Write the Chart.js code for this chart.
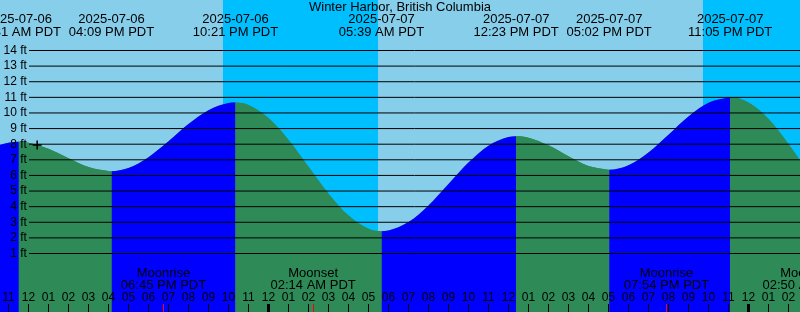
<!DOCTYPE html>
<html>
<head>
<meta charset="utf-8">
<title>Winter Harbor, British Columbia</title>
<script src="https://cdn.jsdelivr.net/npm/chart.js@4.4.1/dist/chart.umd.min.js"></script>
<style>
  html, body { margin: 0; padding: 0; background: #87ceeb; }
  #wrap { position: relative; width: 800px; height: 312px; overflow: hidden; }
  #tideChart { display: block; }
  #title {
    position: absolute; left: 0; right: 0; top: 0;
    text-align: center; color: #000;
    font: 13px "Liberation Sans", Arial, sans-serif; line-height: 14px;
  }
</style>
</head>
<body>
<div id="wrap">
  <canvas id="tideChart" width="800" height="312"></canvas>
  <div id="title">Winter Harbor, British Columbia</div>
</div>
<script>
// Tide heights, one per hour, starting 10 AM 2025-07-06 (ft)
const hourlyStart = 10;
const hourlyFeet = [
  7.72, 8.10, 8.10, 7.71, 7.10, 6.54, 6.28, 6.47, 7.17, 8.19, 9.29, 10.18,
  10.64, 10.51, 9.67, 8.27, 6.55, 4.83, 3.43, 2.59, 2.47, 3.01, 4.08, 5.45,
  6.82, 7.90, 8.46, 8.42, 7.93, 7.23, 6.61, 6.37, 6.65, 7.47, 8.61, 9.78,
  10.65, 10.99, 10.67, 9.61, 8.01, 6.15
];

// High / low water
const extremeStamps = [
  "2025-07-06 11:31 AM PDT", "2025-07-06 04:09 PM PDT", "2025-07-06 10:21 PM PDT",
  "2025-07-07 05:39 AM PDT", "2025-07-07 12:23 PM PDT", "2025-07-07 05:02 PM PDT",
  "2025-07-07 11:05 PM PDT"
];
const extremeFeet = [8.15, 6.27, 10.67, 2.43, 8.51, 6.36, 11.01];

// Moon events
const moonEvents = ["Moonrise", "Moonset", "Moonrise", "Moonset"];
const moonStamps = [
  "2025-07-06 06:45 PM PDT", "2025-07-07 02:14 AM PDT",
  "2025-07-07 07:54 PM PDT", "2025-07-08 02:50 AM PDT"
];

// Night (sunset -> sunrise)
const sunsets = ["2025-07-06 09:43 PM PDT", "2025-07-07 09:43 PM PDT"];
const sunrises = ["2025-07-07 05:29 AM PDT", "2025-07-08 05:30 AM PDT"];

// Current time mark
const nowStamp = "2025-07-06 12:26 PM PDT";
const nowFeet = 7.95;

const depthLevels = [1, 2, 3, 4, 5, 6, 7, 8, 9, 10, 11, 12, 13, 14];

// View window (hours after 2025-07-06 00:00) and height range (ft)
const viewStart = 10.575;
const viewEnd = viewStart + 40;
const gridFrom = viewStart + 1.45;
const feetMin = -2.746;
const feetMax = 17.234;

const NIGHT = "#00bfff";
const FLOOD = "#0000ff";
const EBB = "#2e8b57";
const FONT = '"Liberation Sans", Arial, sans-serif';

// "2025-07-07 05:39 AM PDT" -> hours after 2025-07-06 00:00
function toHours(stamp) {
  const [date, clock, ampm] = stamp.split(" ");
  const day = Number(date.slice(8)) - 6;
  let [h, m] = clock.split(":").map(Number);
  if (ampm === "PM" && h !== 12) h += 12;
  if (ampm === "AM" && h === 12) h = 0;
  return day * 24 + h + m / 60;
}

// keep the axes from taking any room: labels sit on top of the plot
function flatten(scale) {
  if (scale.isHorizontal()) scale.height = 0;
  else scale.width = 0;
  scale.paddingLeft = scale.paddingRight = 0;
  scale.paddingTop = scale.paddingBottom = 0;
}

const tidePoints = hourlyFeet
  .map((ft, i) => ({ x: hourlyStart + i, y: ft }))
  .concat(extremeStamps.map((s, i) => ({ x: toHours(s), y: extremeFeet[i] })))
  .sort((a, b) => a.x - b.x);

const hourTicks = [];
for (let h = Math.ceil(viewStart); h <= viewEnd; h++) hourTicks.push(h);

const nightSets = sunsets.map((s, i) => ({
  data: [
    { x: toHours(s), y: feetMax },
    { x: toHours(sunrises[i]), y: feetMax },
  ],
  fill: "start",
  backgroundColor: NIGHT,
  borderColor: "transparent",
  borderWidth: 0,
  pointRadius: 0,
  order: 5,
}));

const gridSets = depthLevels.map((lvl) => ({
  data: [
    { x: gridFrom, y: lvl },
    { x: viewEnd, y: lvl },
  ],
  borderColor: "#000",
  borderWidth: 1,
  pointRadius: 0,
  fill: false,
  order: 2,
}));

new Chart(document.getElementById("tideChart"), {
  type: "line",
  data: {
    datasets: [
      ...nightSets,
      // underlay so the flood/ebb seams don't show the sky through
      {
        data: tidePoints,
        fill: "start",
        cubicInterpolationMode: "monotone",
        backgroundColor: EBB,
        borderColor: "transparent",
        borderWidth: 0,
        pointRadius: 0,
        order: 4,
      },
      {
        data: tidePoints,
        fill: "start",
        cubicInterpolationMode: "monotone",
        backgroundColor: EBB,
        borderColor: "transparent",
        borderWidth: 0,
        pointRadius: 0,
        segment: {
          backgroundColor: (c) => (c.p1.parsed.y > c.p0.parsed.y ? FLOOD : EBB),
        },
        order: 3,
      },
      ...gridSets,
      {
        data: [{ x: toHours(nowStamp), y: nowFeet }],
        showLine: false,
        pointStyle: "cross",
        pointRadius: 4.5,
        pointBorderWidth: 1.5,
        pointBorderColor: "#000",
        order: 1,
      },
    ],
  },
  options: {
    responsive: false,
    animation: false,
    events: [],
    layout: { padding: 0, autoPadding: false },
    plugins: {
      legend: { display: false },
      tooltip: { enabled: false },
      title: { display: false },
    },
    scales: {
      x: {
        type: "linear",
        position: "bottom",
        min: viewStart,
        max: viewEnd,
        afterBuildTicks: (s) => { s.ticks = hourTicks.map((v) => ({ value: v })); },
        afterFit: flatten,
        border: { display: false },
        grid: {
          drawOnChartArea: false,
          tickLength: -8,
          tickColor: "#000",
          tickWidth: (c) => (c.tick && c.tick.value % 24 === 0 ? 3 : 1),
          z: 1,
        },
        ticks: {
          autoSkip: false,
          maxRotation: 0,
          mirror: true,
          padding: 7.3,
          color: "#000",
          font: { family: FONT, size: 12 },
          z: 1,
          callback: (v) => String(v % 12 || 12).padStart(2, "0"),
        },
      },
      xMoon: {
        type: "linear",
        position: "bottom",
        min: viewStart,
        max: viewEnd,
        afterBuildTicks: (s) => { s.ticks = moonStamps.map((m) => ({ value: toHours(m) })); },
        afterFit: flatten,
        border: { display: false },
        grid: {
          drawOnChartArea: false,
          tickLength: -8,
          tickColor: "#ff0000",
          tickWidth: 1,
          z: 1,
        },
        ticks: {
          autoSkip: false,
          maxRotation: 0,
          mirror: true,
          padding: 32.3,
          color: "#000",
          font: { family: FONT, size: 13, lineHeight: "12px" },
          z: 1,
          callback: (v, i) => [moonEvents[i], moonStamps[i].slice(11)],
        },
      },
      xTop: {
        type: "linear",
        position: "top",
        min: viewStart,
        max: viewEnd,
        afterBuildTicks: (s) => { s.ticks = extremeStamps.map((e) => ({ value: toHours(e) })); },
        afterFit: flatten,
        border: { display: false },
        grid: { display: false, drawTicks: false },
        ticks: {
          autoSkip: false,
          maxRotation: 0,
          mirror: true,
          padding: 0.7,
          color: "#000",
          font: { family: FONT, size: 13, lineHeight: "12.5px" },
          z: 1,
          callback: (v, i) => [extremeStamps[i].slice(0, 10), extremeStamps[i].slice(11)],
        },
      },
      y: {
        type: "linear",
        position: "left",
        min: feetMin,
        max: feetMax,
        afterBuildTicks: (s) => { s.ticks = depthLevels.map((v) => ({ value: v })); },
        afterFit: flatten,
        border: { display: false },
        grid: { display: false, drawTicks: false },
        ticks: {
          mirror: true,
          crossAlign: "far",
          padding: 3.5,
          color: "#000",
          font: { family: FONT, size: 12 },
          z: 1,
          callback: (v) => v + " ft",
        },
      },
    },
  },
});
</script>
</body>
</html>
